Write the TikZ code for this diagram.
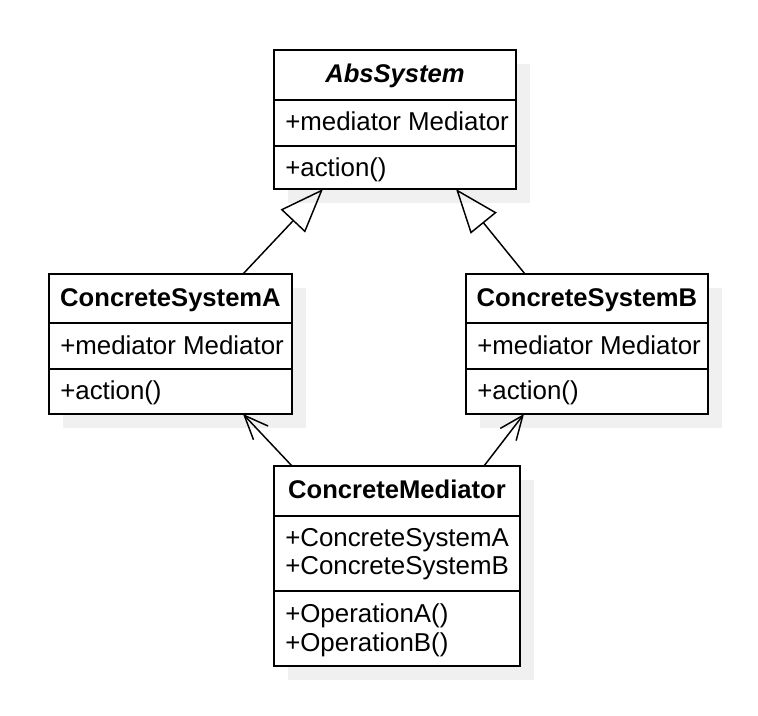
\documentclass[tikz,border=0pt]{standalone}
\usepackage{fontspec}
\setmainfont{Liberation Sans}
\usetikzlibrary{arrows.meta,calc}
\tikzset{
 umlbox/.style={draw=black, line width=1.5pt, fill=white, rectangle, inner sep=0pt, outer sep=0pt, anchor=north west},
 shadowbox/.style={fill=black!6, draw=none},
 divider/.style={line width=1.5pt},
 titletext/.style={anchor=base, inner sep=0pt, font=\fontsize{19.2}{23}\selectfont\bfseries},
 membertext/.style={anchor=base west, inner sep=0pt, font=\fontsize{19.4}{23}\selectfont},
 inherit/.style={line width=1.1pt, -{Triangle[open, length=33pt, width=25pt]}},
 assoc/.style={line width=1.1pt, -{Straight Barb[length=18pt, width=15pt]}},
}
\begin{document}
\begin{tikzpicture}[x=0.75pt, y=-0.75pt]
\useasboundingbox (0,0) rectangle (758,716);
% shadows
\fill[shadowbox] (288,64) rectangle ++(242,139);
\fill[shadowbox] (63,288) rectangle ++(243,140);
\fill[shadowbox] (480,288) rectangle ++(242,140);
\fill[shadowbox] (288,480) rectangle ++(246,200);
% boxes
\node[umlbox, minimum width=181.5pt, minimum height=104.25pt] (abs) at (274,50) {};
\node[umlbox, minimum width=182.25pt, minimum height=105pt] (csa) at (49,274) {};
\node[umlbox, minimum width=181.5pt, minimum height=105pt] (csb) at (466,274) {};
\node[umlbox, minimum width=184.5pt, minimum height=150pt] (med) at (274,466) {};
% dividers
\draw[divider] ($(abs.north west)+(0,50.5)$) -- ($(abs.north east)+(0,50.5)$);
\draw[divider] ($(abs.north west)+(0,96.5)$) -- ($(abs.north east)+(0,96.5)$);
\draw[divider] ($(csa.north west)+(0,49)$) -- ($(csa.north east)+(0,49)$);
\draw[divider] ($(csa.north west)+(0,95)$) -- ($(csa.north east)+(0,95)$);
\draw[divider] ($(csb.north west)+(0,49)$) -- ($(csb.north east)+(0,49)$);
\draw[divider] ($(csb.north west)+(0,95)$) -- ($(csb.north east)+(0,95)$);
\draw[divider] ($(med.north west)+(0,50.5)$) -- ($(med.north east)+(0,50.5)$);
\draw[divider] ($(med.north west)+(0,125.5)$) -- ($(med.north east)+(0,125.5)$);
% texts
\node[titletext] (absT) at (395,83) {\itshape AbsSystem};
\node[membertext] (absM) at (285,131) {+mediator Mediator};
\node[membertext] (absO) at (285,177) {+action()};
\node[titletext] (csaT) at (170.5,307) {ConcreteSystemA};
\node[membertext] (csaM) at (60,355) {+mediator Mediator};
\node[membertext] (csaO) at (60,400) {+action()};
\node[titletext] (csbT) at (587,307) {ConcreteSystemB};
\node[membertext] (csbM) at (477,355) {+mediator Mediator};
\node[membertext] (csbO) at (477,400) {+action()};
\node[titletext] (medT) at (397,499) {ConcreteMediator};
\node[membertext] (medA1) at (285,547) {+ConcreteSystemA};
\node[membertext] (medA2) at (285,575) {+ConcreteSystemB};
\node[membertext] (medO1) at (285,623) {+OperationA()};
\node[membertext] (medO2) at (285,652) {+OperationB()};
% connectors
\draw[inherit] ($(csa.north west)+(194,0)$) -- ($(abs.south west)+(49,0)$);
\draw[inherit] ($(csb.north west)+(59,0)$) -- ($(abs.south west)+(182,0)$);
\draw[assoc] ($(med.north west)+(18,0)$) -- ($(csa.south west)+(194,0)$);
\draw[assoc] ($(med.north west)+(210,0)$) -- ($(csb.south west)+(58,0)$);
\end{tikzpicture}
\end{document}
